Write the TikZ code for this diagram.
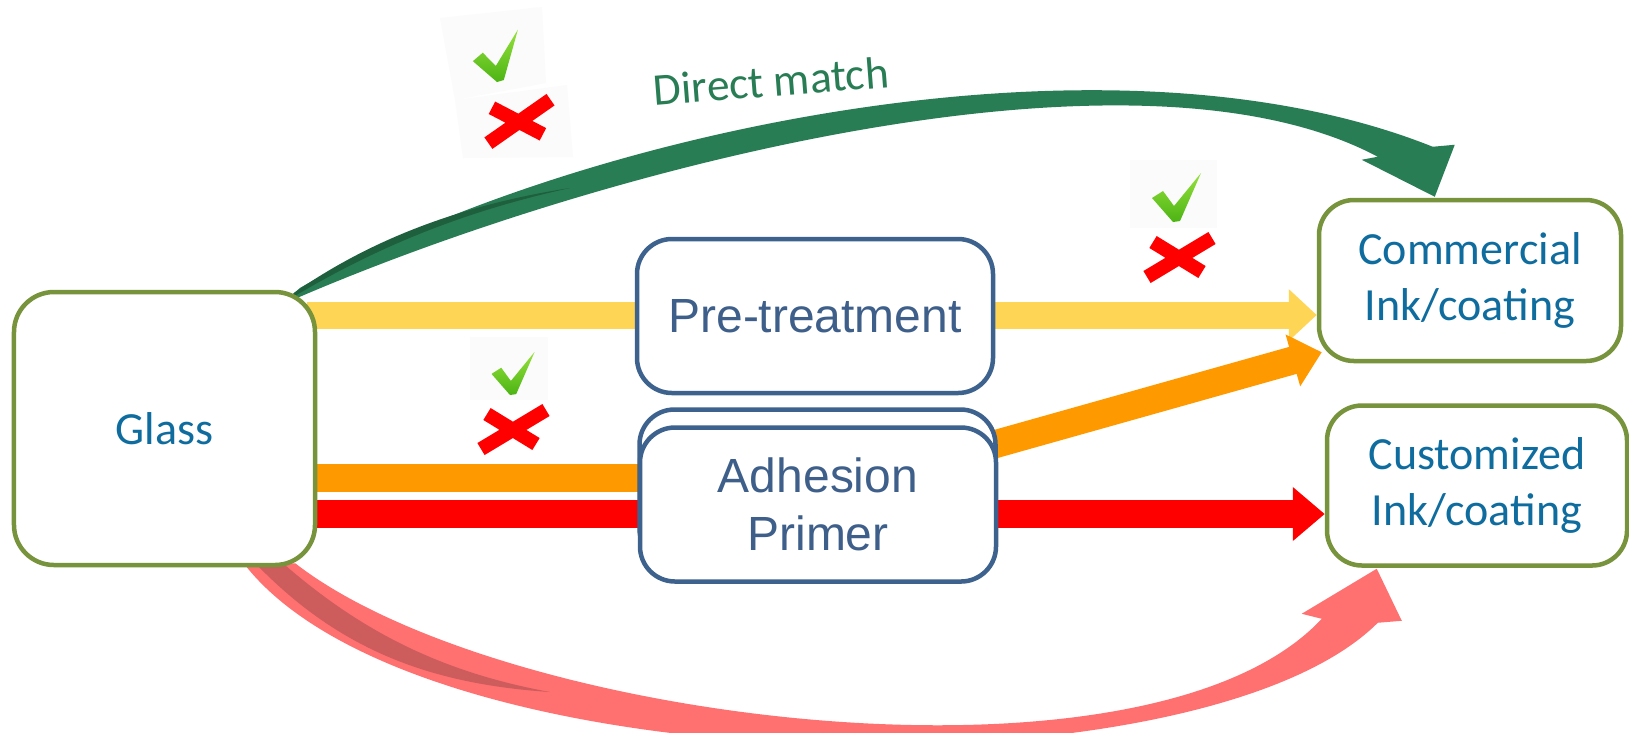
\documentclass[tikz,border=0pt]{standalone}
\usepackage{fontspec}
\setmainfont{Carlito}
\newfontfamily\arialfont{Liberation Sans}
\usetikzlibrary{arrows.meta,positioning,calc}

\definecolor{boxgreen}{RGB}{119,147,60}
\definecolor{boxblue}{RGB}{62,98,142}
\definecolor{txtblue}{RGB}{15,108,158}
\definecolor{steptxt}{RGB}{62,95,138}
\definecolor{arryellow}{RGB}{255,213,85}
\definecolor{arrorange}{RGB}{255,153,0}
\definecolor{arrred}{RGB}{255,0,0}
\definecolor{arrpink}{RGB}{255,112,112}
\definecolor{arrpinkdk}{RGB}{205,92,92}
\definecolor{arrgreen}{RGB}{40,125,85}
\definecolor{arrgreendk}{RGB}{30,95,62}
\definecolor{okgreen}{RGB}{76,180,20}
\definecolor{okgreenlt}{RGB}{150,225,60}

\pgfdeclarelayer{bg}
\pgfsetlayers{bg,main}

\tikzset{
  okmark/.pic={
    \shade[top color=okgreenlt, bottom color=okgreen]
      (0,0) -- (-21,-24) -- (-10,-31) -- (1,-16) -- (28,-49) -- (7,-1) -- cycle;
  },
  nomark/.pic={
    \draw[line width=2.8mm, arrred] (-31,19) -- (34,-20) (-25,-16) -- (24,14);
  },
}

\begin{document}
\begin{tikzpicture}[x=0.2mm, y=-0.2mm,
  endbox/.style={rectangle, draw=boxgreen, line width=0.9mm, fill=white,
    rounded corners=7mm, align=center, text=txtblue,
    font=\fontsize{26.2}{31.9}\selectfont},
  stepbox/.style={rectangle, draw=boxblue, line width=0.9mm, fill=white,
    rounded corners=7mm, align=center, text=steptxt,
    minimum width=71.2mm, minimum height=30.8mm,
    font=\arialfont\fontsize{27.3}{33}\selectfont},
  iconbg/.style={fill=black!1.5},
  bararr/.style={line width=5.6mm},
]
  \useasboundingbox (0,0) rectangle (1629,732);

  % boxes
  \node[endbox, minimum width=60.2mm, minimum height=54.6mm,
    rounded corners=8mm] (glass) at (164.5,428.5) {Glass};
  \node[endbox, minimum width=60.4mm, minimum height=32.2mm]
    (commercial) at (1470,280.5) {Commercial\\Ink/coating};
  \node[endbox, minimum width=60mm, minimum height=32mm,
    below=8mm of commercial, xshift=1.4mm] (customized)
    {Customized\\Ink/coating};
  \node[stepbox] (pretreat) at (815,316) {Pre-treatment};
  \node[stepbox, below=2.4mm of pretreat, xshift=0.5mm] (adhesionback) {};
  \node[stepbox] (adhesion) at ($(adhesionback.center)+(0.5,18)$)
    {Adhesion\\Primer};

  \node[font=\fontsize{25.8}{30}\selectfont, text=arrgreen, rotate=4.5]
    (directlbl) at (771,81) {Direct match};

  % ticks and crosses
  \fill[iconbg] (440,18) -- (542,7) -- (546,83) -- (455,100) -- cycle;
  \fill[iconbg] (455,100) -- (567,85) -- (573,157) -- (463,158) -- cycle;
  \fill[iconbg] (1130,160) rectangle (1217,228);
  \fill[iconbg] (470,337) rectangle (548,400);
  \pic[rotate=8] at (497,82) {okmark};
  \pic[rotate=4] at (518,122) {nomark};
  \pic at (1173,222) {okmark};
  \pic at (1178,258) {nomark};
  \pic[scale=0.88] at (510,395) {okmark};
  \pic at (512,430) {nomark};

  \begin{pgfonlayer}{bg}
    \fill[white] (0,0) rectangle (1629,732);
    \coordinate (ys) at ($(glass.east)+(-10,-113.5)$);
    \coordinate (os) at ($(glass.east)+(-10,49.5)$);
    \coordinate (rs) at ($(glass.east)+(-10,85.5)$);
    % straight arrows
    \draw[bararr, line width=5.4mm, arryellow,
      -{Triangle[length=5.6mm,width=10mm]}] (ys) -- (ys -| commercial.west);
    \draw[bararr, arrorange] (os) -- (os -| adhesion.center);
    \draw[bararr, arrorange, -{Triangle[length=6mm,width=10.4mm]}]
      ($(adhesion.center)+(80,-33)$) -- ($(commercial.south west)+(5,-11)$);
    \draw[bararr, arrred, -{Triangle[length=6.4mm,width=10.4mm]}]
      (rs) -- (rs -| customized.west);
    % direct match
    \fill[arrgreen] ($(glass.north east)+(-17,-2)$)
      .. controls +(260,-150) and +(-333,-133) .. ($(commercial.north west)+(116,-51)$)
      -- ($(commercial.north west)+(138,-53)$)
      -- ($(commercial.north west)+(118,-1)$)
      -- ($(commercial.north west)+(45,-38)$)
      -- ($(commercial.north west)+(61,-41)$)
      .. controls +(-248,-132) and +(298,-132) .. ($(glass.north east)+(-38,16)$)
      -- cycle;
    \fill[arrgreendk] ($(glass.north east)+(-32,12)$)
      .. controls (370,250) and (460,212) .. (570,188)
      .. controls (460,205) and (370,240) .. ($(glass.north east)+(-23,3)$)
      -- cycle;
    % customized route
    \fill[arrpink] ($(glass.south east)+(-22,-4)$)
      .. controls +(205,160) and +(-172,185) .. ($(customized.south west)+(-3,51)$)
      -- ($(customized.south west)+(-23,46)$)
      -- ($(customized.south west)+(52,1)$)
      -- ($(customized.south west)+(77,53)$)
      -- ($(customized.south west)+(53,55)$)
      .. controls +(-178,178) and +(175,222) .. ($(glass.south east)+(-72,-2)$)
      -- cycle;
    \fill[arrpinkdk] ($(glass.south east)+(-60,-2)$)
      .. controls (340,650) and (430,684) .. (550,692)
      .. controls (440,672) and (360,630) .. ($(glass.south east)+(-32,-2)$)
      -- cycle;
  \end{pgfonlayer}
\end{tikzpicture}
\end{document}
